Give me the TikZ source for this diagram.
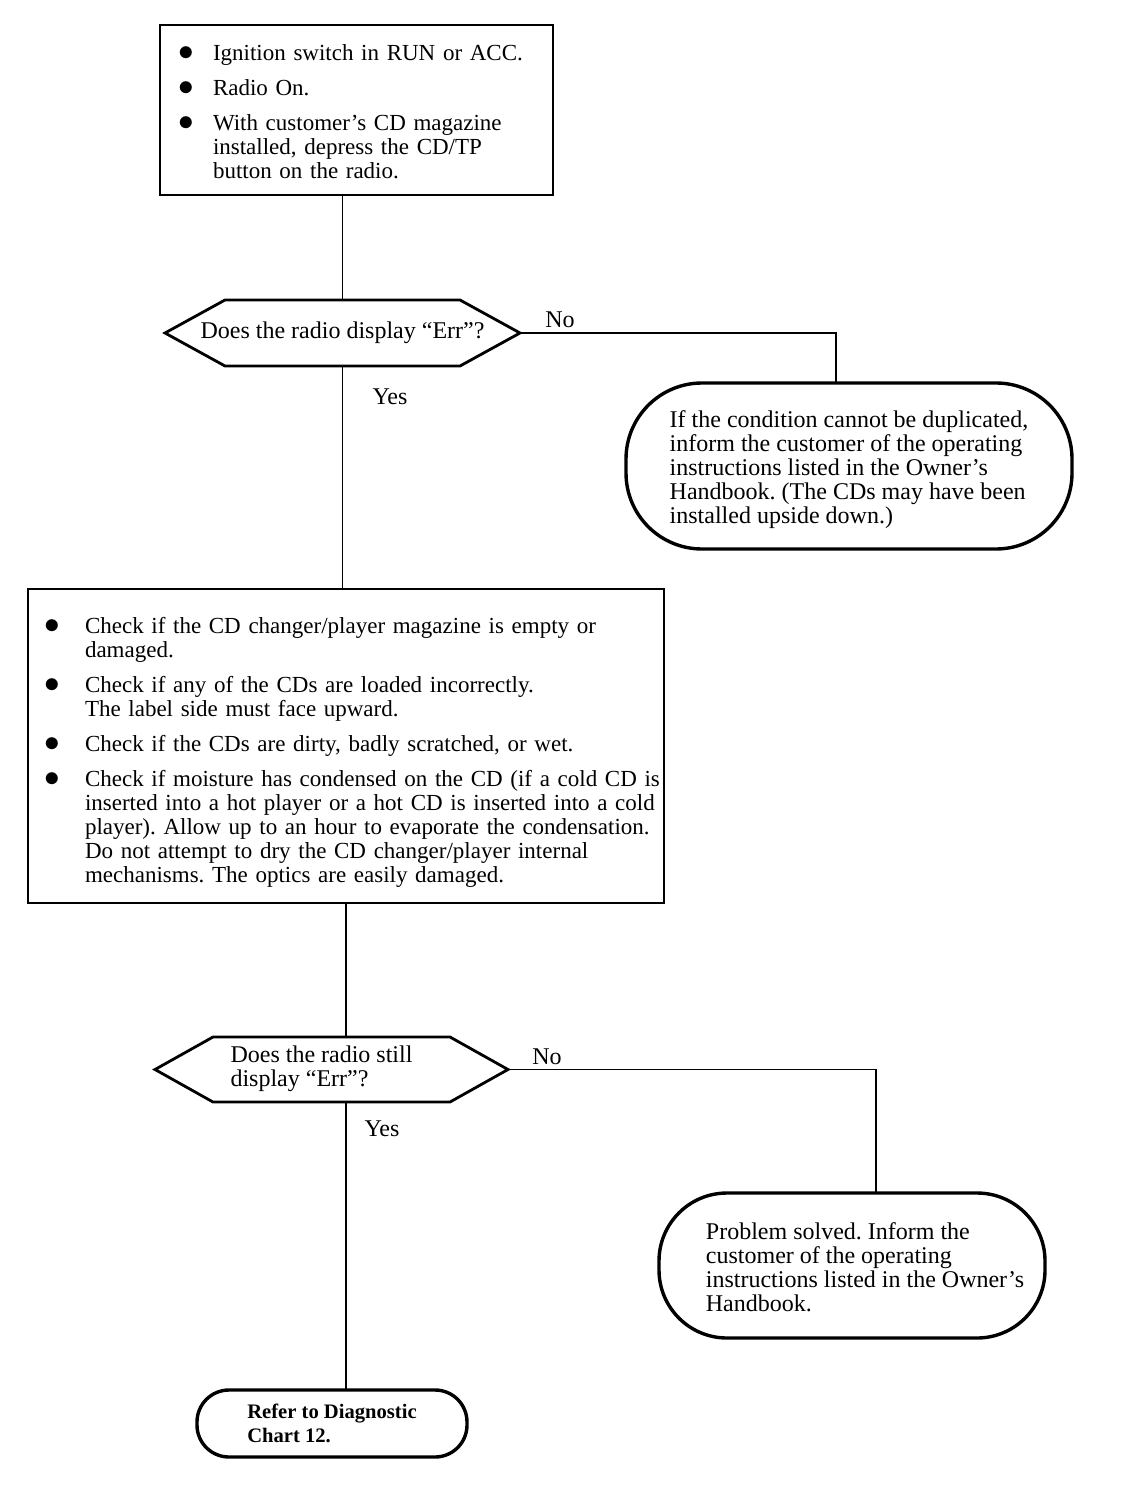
\documentclass[tikz,border=0pt]{standalone}
\usepackage{fontspec}
\setmainfont{Liberation Serif}
\frenchspacing
\newcommand{\bdot}{\scalebox{1.3}{$\bullet$}}
\tikzset{
  procbox/.style={draw, line width=1.4pt, rectangle, align=left, outer sep=0pt, font=\fontsize{11.5}{12}\selectfont},
  termbox/.style={draw, line width=1.7pt, rectangle, rounded corners=#1, align=left, outer sep=0pt},
  decision/.style={outer sep=0pt, inner sep=0pt, align=left},
  hexline/.style={line width=1.4pt, line join=miter},
  conn/.style={line width=0.9pt},
  lbl/.style={inner sep=1pt}
}
\begin{document}
\begin{tikzpicture}[x=0.5pt, y=-0.5pt, font=\fontsize{12}{12}\selectfont]
\useasboundingbox (0,0) rectangle (1120,1502);

% Draw steps
\node[procbox, text width=178.5pt, inner xsep=9pt, minimum height=85pt] (start) at (356.5,110) {%
\begin{tabular}{@{}p{17.5pt}@{}l@{}}
\rule{0pt}{13.4pt}\bdot & Ignition switch in RUN or ACC.\\[5.5pt]
\bdot & Radio On.\\[5.5pt]
\bdot & With customer's CD magazine\\
 & installed, depress the CD/TP\\
 & button on the radio.
\end{tabular}};

\node[procbox, text width=302pt, inner xsep=8pt, minimum height=157pt] (check) at (346,746) {%
\begin{tabular}{@{}p{20.5pt}@{}l@{}}
\rule{0pt}{15.4pt}\bdot & Check if the CD changer/player magazine is empty or\\
 & damaged.\\[5.5pt]
\bdot & Check if any of the CDs are loaded incorrectly.\\
 & The label side must face upward.\\[5.5pt]
\bdot & Check if the CDs are dirty, badly scratched, or wet.\\[5.5pt]
\bdot & Check if moisture has condensed on the CD (if a cold CD is\\
 & inserted into a hot player or a hot CD is inserted into a cold\\
 & player). Allow up to an hour to evaporate the condensation.\\
 & Do not attempt to dry the CD changer/player internal\\
 & mechanisms. The optics are easily damaged.
\end{tabular}};

% Draw decisions
\node[decision, minimum width=177.5pt, minimum height=33pt] (d1) at (342.5,333) {Does the radio display ``Err''?};
\node[decision, minimum width=176.5pt, minimum height=32.5pt] (d2) at (331.5,1069.5) {%
\begin{tabular}{@{}l@{\hspace{10pt}}}
Does the radio still\\
display ``Err''?
\end{tabular}};
\foreach \d/\s in {d1/30pt,d2/29pt} {
    \draw[hexline] (\d.west) -- ([xshift=\s]\d.north west) -- ([xshift=-\s]\d.north east) -- (\d.east)
        -- ([xshift=-\s]\d.south east) -- ([xshift=\s]\d.south west) -- cycle;
}

% Draw ends
\node[termbox=38pt, minimum width=223pt, minimum height=83pt] (dup) at (849,466) {%
\begin{tabular}{@{}l@{}}
\rule{0pt}{13.4pt}If the condition cannot be duplicated,\\
inform the customer of the operating\\
instructions listed in the Owner's\\
Handbook. (The CDs may have been\\
installed upside down.)
\end{tabular}};
\node[termbox=34pt, minimum width=193pt, minimum height=72.5pt] (solved) at (852,1265.5) {%
\begin{tabular}{@{\hspace{13pt}}l@{}}
\rule{0pt}{13.4pt}Problem solved. Inform the\\
customer of the operating\\
instructions listed in the Owner's\\
Handbook.
\end{tabular}};
\node[termbox=16pt, minimum width=135pt, minimum height=33.5pt, font=\fontsize{10.3}{12}\selectfont\bfseries] (chart) at (332,1423.5) {Refer to Diagnostic\\Chart 12.};

% Connectors
\draw[conn] (d1.north |- start.south) -- (d1.north);
\draw[conn] (d1.south) -- (d1.south |- check.north);
\draw[conn] (d1.east) -| ([xshift=-6.5pt]dup.north);
\draw[conn] (check.south) -- (check.south |- d2.north);
\draw[conn] (d2.south -| check.south) -- (check.south |- chart.north);
\draw[conn] (d2.east) -| ([xshift=12pt]solved.north);

% Labels
\node[lbl] (no1) at (560,320) {No};
\node[lbl] (yes1) at (390,397) {Yes};
\node[lbl] (no2) at (547,1057) {No};
\node[lbl] (yes2) at (382,1129) {Yes};

\end{tikzpicture}
\end{document}
